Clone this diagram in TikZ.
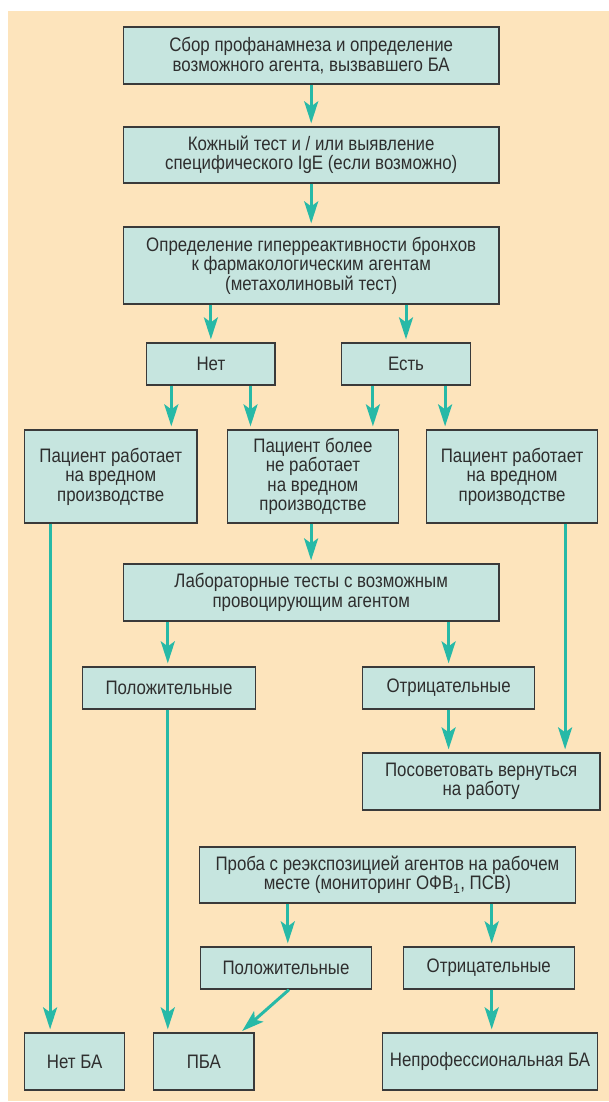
\documentclass[tikz,border=0pt]{standalone}
\usepackage{fontspec}
\setmainfont{Liberation Sans}[FakeStretch=0.865]
\usetikzlibrary{arrows.meta}
\definecolor{bgpeach}{HTML}{FDE4BC}
\definecolor{boxfill}{HTML}{C6E5DF}
\definecolor{arrcol}{HTML}{27B9A7}
\definecolor{edgecol}{HTML}{3A3A3A}
\definecolor{txtcol}{HTML}{2E2E2E}
\begin{document}
\begin{tikzpicture}[x=1pt,y=-1pt,
  box/.style={draw=edgecol, line width=1.3pt, fill=boxfill, inner sep=0pt, align=center,
    text=txtcol, font=\fontsize{19.5}{19.5}\selectfont},
  arr/.style={draw=arrcol, line width=3pt, -{Stealth[length=22pt,width=14pt,inset=5pt]}, shorten >=3pt}]
\useasboundingbox (0,0) rectangle (609,1102);
\fill[white] (0,0) rectangle (609,1102);
\fill[bgpeach] (8,11) rectangle (609,1101);

\node[box, minimum width=375.5, minimum height=57] (b1) at (311.2,55.5) {Сбор профанамнеза и определение\\возможного агента, вызвавшего БА};
\node[box, minimum width=375.5, minimum height=56] (b2) at (311.2,155) {Кожный тест и / или выявление\\специфического IgE (если возможно)};
\node[box, minimum width=375.5, minimum height=77] (b3) at (311.2,265.5) {Определение гиперреактивности бронхов\\к фармакологическим агентам\\(метахолиновый тест)};
\node[box, minimum width=128.2, minimum height=42] (net) at (210.9,364) {Нет};
\node[box, minimum width=129.3, minimum height=42] (est) at (406,364) {Есть};
\node[box, minimum width=172.4, minimum height=93] (r3a) at (110.7,476.5) {Пациент работает\\на вредном\\производстве};
\node[box, minimum width=171.3, minimum height=93] (r3b) at (312.9,476.5) {Пациент более\\не работает\\на вредном\\производстве};
\node[box, minimum width=171.2, minimum height=93] (r3c) at (512.1,476.5) {Пациент работает\\на вредном\\производстве};
\node[box, minimum width=375.5, minimum height=57] (lab) at (311.2,592.5) {Лабораторные тесты с возможным\\провоцирующим агентом};
\node[box, minimum width=172.5, minimum height=42] (pos1) at (169,688) {Положительные};
\node[box, minimum width=172.4, minimum height=42] (neg1) at (448.6,688) {Отрицательные};
\node[box, minimum width=237.7, minimum height=57] (adv) at (481.2,781.5) {Посоветовать вернуться\\на работу};
\node[box, minimum width=376.4, minimum height=56] (reexp) at (387.4,875) {Проба с реэкспозицией агентов на рабочем\\месте (мониторинг ОФВ\textsubscript{1}, ПСВ)};
\node[box, minimum width=171.3, minimum height=42] (pos2) at (286,968) {Положительные};
\node[box, minimum width=171.2, minimum height=42] (neg2) at (488.8,968) {Отрицательные};
\node[box, minimum width=100.2, minimum height=57] (noba) at (74.6,1061.5) {Нет БА};
\node[box, minimum width=100.2, minimum height=57] (pba) at (203.9,1061.5) {ПБА};
\node[box, minimum width=215.5, minimum height=57] (nonprof) at (490,1061.5) {Непрофессиональная БА};

\draw[arr] (b1.south) -- (b2.north);
\draw[arr] (b2.south) -- (b3.north);
\draw[arr] (b3.south -| net.north) -- (net.north);
\draw[arr] (b3.south -| est.north) -- (est.north);
\draw[arr] ([xshift=-39.6pt]net.south) -- ([xshift=-39.6pt]net.south |- r3a.north);
\draw[arr] ([xshift=39.6pt]net.south) -- ([xshift=39.6pt]net.south |- r3b.north);
\draw[arr] ([xshift=-33.1pt]est.south) -- ([xshift=-33.1pt]est.south |- r3b.north);
\draw[arr] ([xshift=39.1pt]est.south) -- ([xshift=39.1pt]est.south |- r3c.north);
\draw[arr] ([xshift=-1.8pt]r3b.south) -- ([xshift=-1.8pt]r3b.south |- lab.north);
\draw[arr] ([xshift=-1.2pt]lab.south -| pos1.north) -- ([xshift=-1.2pt]pos1.north);
\draw[arr] (lab.south -| neg1.north) -- (neg1.north);
\draw[arr] (neg1.south) -- (neg1.south |- adv.north);
\draw[arr] ([xshift=53pt]r3c.south) -- ([xshift=53pt]r3c.south |- adv.north);
\draw[arr] ([xshift=-60.6pt]r3a.south) -- ([xshift=-60.6pt]r3a.south |- noba.north);
\draw[arr] ([xshift=-1.2pt]pos1.south) -- ([xshift=-1.2pt]pos1.south |- pba.north);
\draw[arr] ([xshift=1.8pt]reexp.south -| pos2.north) -- ([xshift=1.8pt]pos2.north);
\draw[arr] ([xshift=2.9pt]reexp.south -| neg2.north) -- ([xshift=2.9pt]neg2.north);
\draw[arr] ([xshift=2.9pt]neg2.south) -- ([xshift=2.9pt]neg2.south |- nonprof.north);
\draw[arr, shorten >=2pt] ([xshift=3pt]pos2.south) -- ([xshift=-14pt]pba.north east);
\end{tikzpicture}
\end{document}
